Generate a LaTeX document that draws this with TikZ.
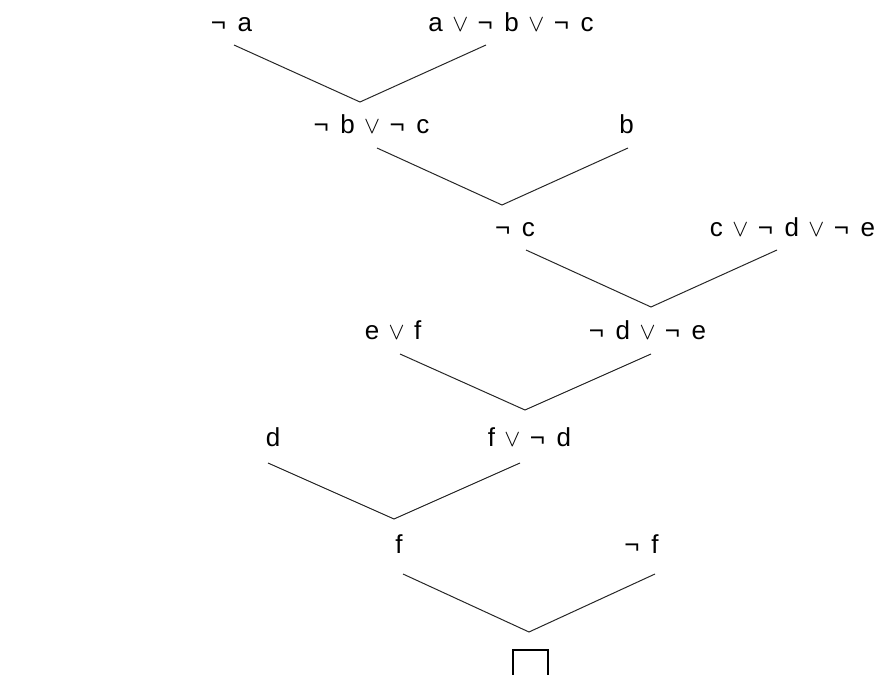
\documentclass[tikz,border=0pt]{standalone}
\usepackage{fontspec}
\setmainfont{Liberation Sans}
\usetikzlibrary{positioning}
\newcommand{\nt}{¬\hspace{5.8pt}}
\newcommand{\vo}{\hspace{4.7pt}$\vee$\hspace{4.7pt}}

\begin{document}
\begin{tikzpicture}[x=0.5pt,y=-0.5pt,
    clause/.style={anchor=base,inner sep=0pt,font=\fontsize{13}{15}\selectfont},
    edge/.style={line width=0.5pt,black!85}]
  \useasboundingbox (0,0) rectangle (880,675);
  \clip (0,0) rectangle (880,675);
  % clauses, row by row (placed at their baselines)
  \node[clause] (na)  at (231.5,31) {\nt a};
  \node[clause] (abc) at (511,31)   {a\vo\nt b\vo\nt c};
  \node[clause] (bc)  at (371.5,133) {\nt b\vo\nt c};
  \node[clause] (b)   at (626.5,133) {b};
  \node[clause] (c)   at (515,236)  {\nt c};
  \node[clause] (cde) at (792.5,236) {c\vo\nt d\vo\nt e};
  \node[clause] (ef)  at (393,339)  {e\vo f};
  \node[clause] (de)  at (647.5,339) {\nt d\vo\nt e};
  \node[clause] (d)   at (273,446)  {d};
  \node[clause] (fd)  at (529.5,446) {f\vo\nt d};
  \node[clause] (f)   at (399,553)  {f};
  \node[clause] (nf)  at (641.5,553) {\nt f};
  % empty clause
  \node[draw,line width=0.7pt,minimum size=17.5pt,inner sep=0pt] (empty) at (530.5,667.5) {};
  % resolution steps: top ends and vertices
  \coordinate (na-t)  at (234,45);   \coordinate (abc-t) at (486,45);  \coordinate (v1) at (360,102);
  \coordinate (bc-t)  at (377,148);  \coordinate (b-t)   at (628,148); \coordinate (v2) at (502,205);
  \coordinate (c-t)   at (526,250);  \coordinate (cde-t) at (777,250); \coordinate (v3) at (651,307);
  \coordinate (ef-t)  at (400,354);  \coordinate (de-t)  at (651,354); \coordinate (v4) at (525,410);
  \coordinate (d-t)   at (268,463);  \coordinate (fd-t)  at (520,463); \coordinate (v5) at (394,519);
  \coordinate (f-t)   at (403,574);  \coordinate (nf-t)  at (655,574); \coordinate (v6) at (529,632);
  \draw[edge] (na-t) -- (v1) -- (abc-t);
  \draw[edge] (bc-t) -- (v2) -- (b-t);
  \draw[edge] (c-t) -- (v3) -- (cde-t);
  \draw[edge] (ef-t) -- (v4) -- (de-t);
  \draw[edge] (d-t) -- (v5) -- (fd-t);
  \draw[edge] (f-t) -- (v6) -- (nf-t);
\end{tikzpicture}
\end{document}
